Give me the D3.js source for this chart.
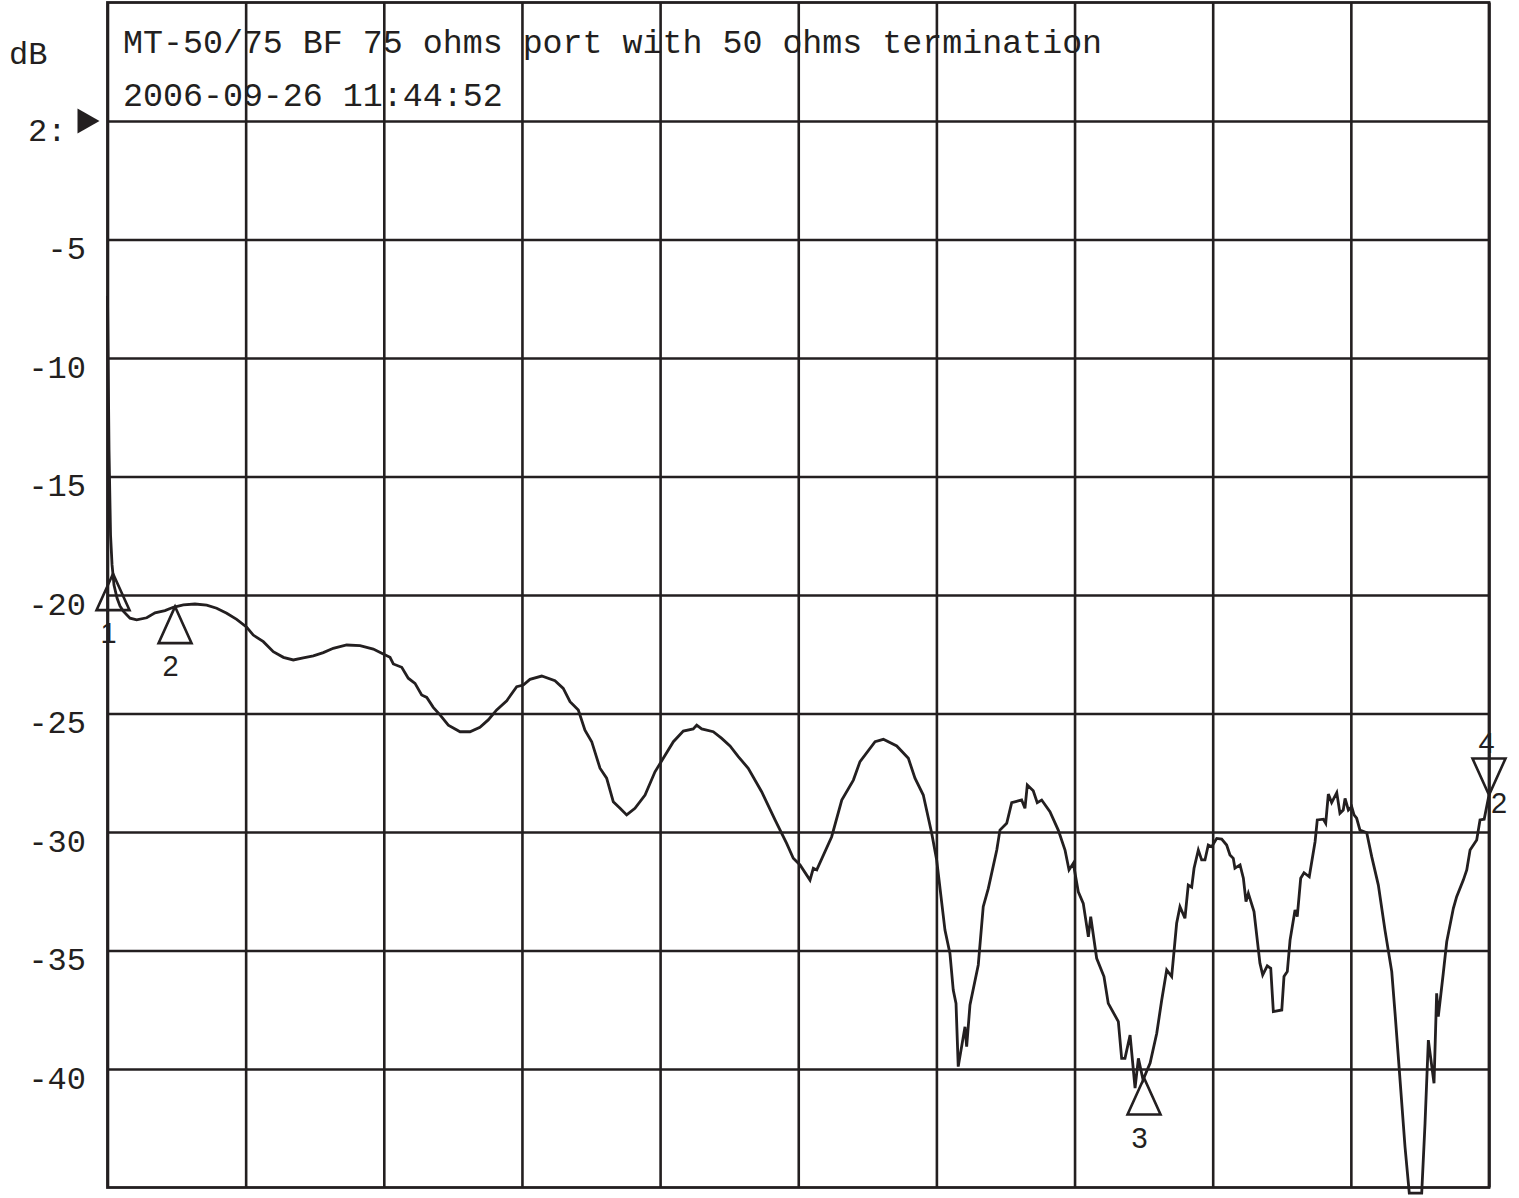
<!DOCTYPE html>
<html>
<head>
<meta charset="utf-8">
<script src="https://cdn.jsdelivr.net/npm/d3@7"></script>
<style>
  html, body { margin: 0; padding: 0; background: #ffffff; }
  svg { display: block; }
</style>
</head>
<body>
<svg id="chart" width="1519" height="1198"></svg>
<script>
// ---- data (sweep position in % of span, magnitude in dB) ----
const titleLines = ["MT-50/75 BF 75 ohms port with 50 ohms termination", "2006-09-26 11:44:52"];
const yUnit = "dB";
const yTickValues = [0, -5, -10, -15, -20, -25, -30, -35, -40];
const yTickLabels = ["2:", "-5", "-10", "-15", "-20", "-25", "-30", "-35", "-40"];
const xTickValues = [0, 10, 20, 30, 40, 50, 60, 70, 80, 90, 100];

const sweepPos = [0.00,0.11,0.22,0.33,0.47,0.69,0.90,1.14,1.63,2.11,2.84,3.44,4.16,4.76,5.49,6.33,7.18,7.90,8.63,9.35,
10.08,10.55,11.28,12.00,12.73,13.45,14.17,14.90,15.62,16.34,17.31,18.28,19.24,19.96,20.45,20.69,21.30,21.77,22.26,22.74,
23.11,23.58,24.07,24.67,25.52,26.24,26.96,27.56,28.17,28.90,29.62,30.10,30.58,31.43,32.39,32.99,33.48,34.08,34.56,35.05,
35.65,36.13,36.61,37.10,37.58,38.18,38.91,39.63,40.23,40.96,41.68,42.40,42.65,43.01,43.85,44.46,45.06,45.66,46.38,47.35,
48.32,49.16,49.64,50.13,50.85,51.09,51.34,52.42,53.15,53.99,54.47,55.56,56.16,57.13,57.97,58.45,59.05,59.66,60.02,60.62,
60.98,61.22,61.42,61.58,62.07,62.19,62.43,63.03,63.39,63.76,64.37,64.60,65.09,65.45,66.17,66.41,66.58,67.01,67.30,67.62,
68.22,68.82,69.31,69.60,69.91,70.27,70.63,71.00,71.17,71.60,72.13,72.44,73.17,73.41,73.65,74.02,74.38,74.62,74.96,75.47,
75.95,76.31,76.67,77.03,77.39,77.63,77.99,78.23,78.48,78.65,78.96,79.20,79.44,79.68,79.93,80.29,80.65,81.01,81.25,81.49,
81.61,81.98,82.22,82.41,82.58,82.99,83.42,83.62,83.95,84.20,84.39,85.00,85.16,85.40,85.60,85.96,86.12,86.37,86.61,86.99,
87.41,87.57,88.01,88.18,88.37,88.61,88.98,89.21,89.45,89.58,89.82,90.06,90.23,90.42,90.66,91.15,91.51,91.99,92.47,92.96,
93.20,93.56,93.92,94.23,95.13,95.37,95.61,96.02,96.21,96.33,96.69,96.94,97.42,97.66,98.14,98.39,98.63,99.11,99.35,99.65,
100.0];

const magDb = [-7.38,-13.88,-17.47,-18.73,-19.58,-20.13,-20.46,-20.68,-20.98,-21.05,-20.96,-20.75,-20.66,-20.52,-20.42,-20.38,-20.43,-20.56,-20.77,-21.03,
-21.36,-21.69,-21.97,-22.39,-22.63,-22.74,-22.65,-22.57,-22.43,-22.25,-22.11,-22.14,-22.28,-22.49,-22.63,-22.91,-23.05,-23.51,-23.73,-24.22,
-24.32,-24.74,-25.06,-25.49,-25.77,-25.77,-25.58,-25.27,-24.85,-24.46,-23.87,-23.80,-23.56,-23.42,-23.62,-23.94,-24.50,-24.85,-25.70,-26.19,
-27.31,-27.73,-28.72,-29.00,-29.28,-29.00,-28.44,-27.46,-26.89,-26.19,-25.74,-25.65,-25.49,-25.65,-25.77,-26.05,-26.37,-26.82,-27.31,-28.30,
-29.49,-30.48,-31.11,-31.39,-32.03,-31.53,-31.60,-30.20,-28.65,-27.81,-27.03,-26.19,-26.09,-26.37,-26.89,-27.73,-28.44,-30.05,-31.18,-34.14,
-35.12,-36.67,-37.23,-39.90,-38.22,-39.06,-37.30,-35.61,-33.15,-32.38,-30.76,-29.92,-29.63,-28.76,-28.65,-29.00,-28.02,-28.26,-28.76,-28.65,
-29.14,-29.92,-30.76,-31.60,-31.32,-32.52,-33.01,-34.42,-33.57,-35.33,-36.10,-37.23,-38.00,-39.55,-39.55,-38.57,-40.81,-39.55,-40.46,-39.75,
-38.49,-37.09,-35.82,-36.10,-33.85,-33.15,-33.64,-32.24,-32.33,-31.53,-30.76,-31.18,-31.18,-30.55,-30.62,-30.27,-30.30,-30.55,-30.97,-31.11,
-31.53,-31.39,-31.95,-32.94,-32.59,-33.36,-35.54,-36.03,-35.65,-35.75,-37.58,-37.51,-36.10,-35.89,-34.56,-33.29,-33.57,-31.95,-31.72,-31.89,
-30.41,-29.49,-29.46,-29.63,-28.40,-28.76,-28.34,-29.21,-29.07,-28.58,-29.07,-28.93,-29.28,-29.42,-29.92,-30.03,-31.04,-32.24,-34.14,-35.89,
-37.65,-40.46,-43.28,-45.24,-45.24,-42.29,-38.78,-40.60,-36.81,-37.79,-35.96,-34.63,-33.22,-32.73,-32.03,-31.60,-30.76,-30.34,-29.49,-29.46,
-28.44];

// markers: id, position, value, direction (up = triangle below point, down = triangle above point)
const markerIds = ["1", "2", "3", "4"];
const markerPos = [0.40, 4.89, 75.03, 100.0];
const markerDb = [-19.1, -20.49, -40.38, -28.44];
const markerDir = ["up", "up", "up", "down"];
const markerSub = ["", "", "", "2"];

// ---- drawing ----
const ink = "#231f20";
const svg = d3.select("#chart");
const pLeft = 107.5, pRight = 1489, pTop = 2.5, pBottom = 1187.5;

const x = d3.scaleLinear().domain([0, 100]).range([pLeft, pRight]);
const y = d3.scaleLinear().domain([-45, 5]).range([pBottom, pTop]);

// horizontal grid + labels
const yAxis = d3.axisLeft(y)
  .tickValues(yTickValues)
  .tickSize(-(pRight - pLeft))
  .tickPadding(0)
  .tickFormat((d, i) => yTickLabels[i]);
const gy = svg.append("g").attr("transform", `translate(${pLeft},0)`).call(yAxis);
gy.select(".domain").remove();
gy.selectAll(".tick line").attr("stroke", ink).attr("stroke-width", 2.6);
gy.selectAll(".tick text")
  .attr("x", (d) => d === 0 ? -41 : -21.5)
  .attr("dy", 0)
  .attr("y", 19)
  .attr("text-anchor", "end")
  .attr("fill", ink)
  .style("font-family", "'Liberation Mono', 'Courier New', monospace")
  .style("font-size", "32px");

// vertical grid
const xAxis = d3.axisBottom(x)
  .tickValues(xTickValues)
  .tickSize(-(pBottom - pTop))
  .tickFormat("");
const gx = svg.append("g").attr("transform", `translate(0,${pBottom})`).call(xAxis);
gx.select(".domain").remove();
gx.selectAll(".tick line").attr("stroke", ink).attr("stroke-width", 2.6);

// frame
svg.append("rect")
  .attr("x", pLeft).attr("y", pTop)
  .attr("width", pRight - pLeft).attr("height", pBottom - pTop)
  .attr("fill", "none").attr("stroke", ink).attr("stroke-width", 2.8);

// reference marker arrow
const y0 = y(0);
svg.append("path")
  .attr("d", `M${pLeft - 30},${y0 - 12.5} L${pLeft - 8},${y0} L${pLeft - 30},${y0 + 12.5} Z`)
  .attr("fill", ink);

// unit label and title
svg.append("text").attr("x", 9).attr("y", 64).text(yUnit)
  .attr("fill", ink)
  .style("font-family", "'Liberation Mono', 'Courier New', monospace").style("font-size", "32px");
svg.selectAll("text.title").data(titleLines).enter().append("text")
  .attr("class", "title")
  .attr("x", 123)
  .attr("y", (d, i) => 53 + i * 53)
  .text(d => d)
  .attr("fill", ink)
  .style("font-family", "'Liberation Mono', 'Courier New', monospace")
  .style("font-size", "33.3px");

// trace
const pts = sweepPos.map((p, i) => [p, magDb[i]]);
const line = d3.line().x(d => x(d[0])).y(d => y(d[1]));
svg.append("path").datum(pts)
  .attr("d", line)
  .attr("fill", "none")
  .attr("stroke", ink)
  .attr("stroke-width", 2.8)
  .attr("stroke-linejoin", "miter");

// markers
const triH = 36.5, triW = 16.5;
markerIds.forEach((id, i) => {
  const mx = x(markerPos[i]), my = y(markerDb[i]);
  const s = markerDir[i] === "up" ? 1 : -1;
  svg.append("path")
    .attr("d", `M${mx},${my} L${mx - triW},${my + s * triH} L${mx + triW},${my + s * triH} Z`)
    .attr("fill", "none").attr("stroke", ink).attr("stroke-width", 2.6).attr("stroke-linejoin", "miter");
  const lbl = svg.append("text")
    .attr("text-anchor", "middle")
    .attr("fill", ink)
    .style("font-family", "'Liberation Sans', Arial, sans-serif")
    .style("font-size", "29px")
    .text(id);
  if (s === 1) {
    lbl.attr("x", mx - 4.5).attr("y", my + triH + 33);
  } else {
    lbl.attr("x", mx - 2.5).attr("y", my - triH - 6);
  }
  if (markerSub[i]) {
    svg.append("text")
      .attr("x", mx + 10).attr("y", my + 18)
      .attr("text-anchor", "middle")
      .attr("fill", ink)
      .style("font-family", "'Liberation Sans', Arial, sans-serif")
      .style("font-size", "29px")
      .text(markerSub[i]);
  }
});
</script>
</body>
</html>
